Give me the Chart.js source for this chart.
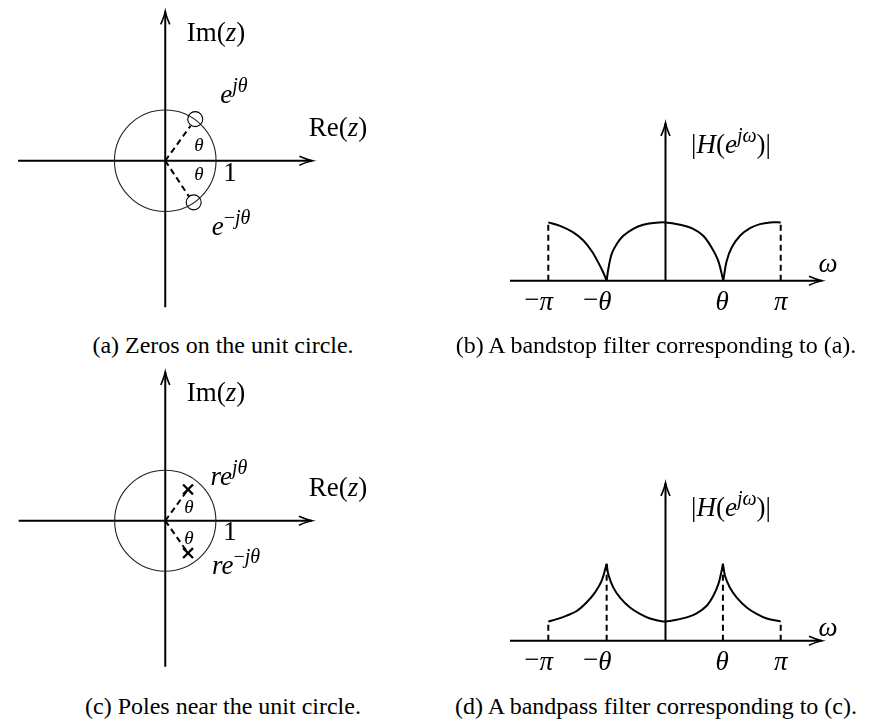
<!DOCTYPE html>
<html>
<head>
<meta charset="utf-8">
<script src="https://cdn.jsdelivr.net/npm/chart.js@4.4.1/dist/chart.umd.min.js"></script>
<style>
  html, body { margin: 0; padding: 0; background: #fff; }
  body { width: 875px; height: 721px; position: relative; overflow: hidden;
         font-family: "Liberation Serif", "DejaVu Serif", serif; color: #000; }
  canvas { position: absolute; }
  .lbl { position: absolute; transform: translate(-50%, -50%); white-space: nowrap; line-height: 1; font-size: 27px; }
  .lbl sup { font-size: 0.74em; vertical-align: 0.55em; line-height: 0; }
  .sm { font-size: 19px; }
  .cap { position: absolute; transform: translate(-50%, -50%); white-space: nowrap; font-size: 24px; line-height: 1; }
  .neg { position: absolute; right: 100%; top: 0; }
</style>
</head>
<body>
<canvas id="chart-a" width="340" height="330" style="left:0;top:0"></canvas>
<canvas id="chart-b" width="360" height="210" style="left:490px;top:110px"></canvas>
<canvas id="chart-c" width="340" height="330" style="left:0;top:360px"></canvas>
<canvas id="chart-d" width="360" height="210" style="left:490px;top:470px"></canvas>

<script>
// ---- data ----
// (a) zeros on the unit circle, (c) poles inside it  (z-plane, unit = 1)
const zeroRe = [0.59, 0.56];
const zeroIm = [0.82, -0.82];
const zeroRayRe = [0.50, 0.47];   // dashed rays stop at the edge of the zero marks
const zeroRayIm = [0.69, -0.71];
const poleRe = [0.45, 0.45];
const poleIm = [0.62, -0.64];

// (b) bandstop |H|, omega in units of pi
const stopLeftW = [-1.0, -0.90, -0.787, -0.701, -0.63, -0.573, -0.531, -0.502];
const stopLeftH = [1.0, 0.94, 0.83, 0.69, 0.51, 0.31, 0.14, 0];
const stopMidW = [-0.502, -0.488, -0.459, -0.416, -0.36, -0.275, -0.19, -0.104, 0, 0.124, 0.236, 0.322, 0.393, 0.45, 0.493];
const stopMidH = [0, 0.20, 0.46, 0.63, 0.77, 0.89, 0.96, 0.99, 1.0, 0.96, 0.89, 0.77, 0.57, 0.34, 0];
const stopRightW = [0.493, 0.522, 0.565, 0.636, 0.721, 0.806, 0.892, 0.983];
const stopRightH = [0, 0.34, 0.57, 0.77, 0.90, 0.97, 1.0, 1.0];

// (d) bandpass |H|
const passLeftW = [-1.0, -0.928, -0.843, -0.757, -0.672, -0.601, -0.544, -0.502];
const passLeftH = [0.33, 0.37, 0.43, 0.51, 0.66, 0.83, 1.03, 1.32];
const passMidW = [-0.502, -0.488, -0.445, -0.388, -0.303, -0.218, -0.132, -0.047, 0, 0.096, 0.181, 0.266, 0.352, 0.408, 0.451, 0.479, 0.49];
const passMidH = [1.32, 1.14, 0.91, 0.74, 0.57, 0.46, 0.38, 0.34, 0.33, 0.36, 0.40, 0.47, 0.60, 0.77, 0.97, 1.20, 1.32];
const passRightW = [0.49, 0.508, 0.550, 0.608, 0.693, 0.778, 0.864, 0.983];
const passRightH = [1.32, 1.11, 0.91, 0.74, 0.57, 0.46, 0.38, 0.33];

// frequency tick labels
const tickW = [-1, -0.5, 0.5, 1];
const tickSym = ['π', 'θ', 'θ', 'π'];

// ---- helpers ----
const pts = (xs, ys) => xs.map((x, i) => ({ x: x, y: ys[i] }));

const axesPlugin = {
  id: 'axes',
  beforeDatasetsDraw(chart, args, o) {
    const { ctx, scales: { x, y } } = chart;
    const x0 = x.getPixelForValue(0), y0 = y.getPixelForValue(0);
    const xa = x.getPixelForValue(o.xFrom), xb = x.getPixelForValue(o.xTo);
    const ya = y.getPixelForValue(o.yFrom), yb = y.getPixelForValue(o.yTo);
    ctx.save();
    ctx.strokeStyle = '#000';
    ctx.lineWidth = 2;
    ctx.beginPath();
    ctx.moveTo(xa, y0); ctx.lineTo(xb, y0);
    ctx.moveTo(x0, ya); ctx.lineTo(x0, yb);
    ctx.stroke();
    // latex style arrow heads
    ctx.lineWidth = 1.6;
    ctx.beginPath();
    ctx.moveTo(xb - 13, y0 - 4.5); ctx.quadraticCurveTo(xb - 5, y0 - 1, xb, y0);
    ctx.quadraticCurveTo(xb - 5, y0 + 1, xb - 13, y0 + 4.5);
    ctx.moveTo(x0 - 4.5, yb + 13); ctx.quadraticCurveTo(x0 - 1, yb + 5, x0, yb);
    ctx.quadraticCurveTo(x0 + 1, yb + 5, x0 + 4.5, yb + 13);
    ctx.stroke();
    if (o.circle) {
      const rx = x.getPixelForValue(o.circle) - x0;
      const ry = y0 - y.getPixelForValue(o.circle);
      ctx.lineWidth = 1.1;
      ctx.strokeStyle = '#222';
      ctx.beginPath();
      ctx.ellipse(x0, y0, rx, ry, 0, 0, Math.PI * 2);
      ctx.stroke();
    }
    ctx.restore();
  }
};

function line(data, dashed) {
  return {
    data: data, showLine: true, borderColor: '#000', borderWidth: 2,
    borderDash: dashed ? [6, 4] : [], pointRadius: 0,
    tension: dashed ? 0 : 0.35
  };
}

function makeChart(id, datasets, range, axes) {
  return new Chart(document.getElementById(id), {
    type: 'scatter',
    data: { datasets: datasets },
    options: {
      responsive: false, animation: false, events: [],
      layout: { padding: 0 },
      plugins: { legend: { display: false }, tooltip: { enabled: false }, axes: axes },
      scales: {
        x: { type: 'linear', display: false, min: range[0], max: range[1] },
        y: { type: 'linear', display: false, min: range[2], max: range[3] }
      }
    },
    plugins: [axesPlugin]
  });
}

const zRange = [-3.084, 3.271, -3.168, 3.0];
const zAxes = { xFrom: -2.897, xTo: 2.897, yFrom: -2.888, yTo: 2.944, circle: 1 };
const wRange = [-1.4974, 1.5742, -0.674, 2.928];
const wAxes = { xFrom: -1.327, xTo: 1.335, yFrom: 0, yTo: 2.705 };

// (a) zeros
makeChart('chart-a', [
  line([{ x: 0, y: 0 }, { x: zeroRayRe[0], y: zeroRayIm[0] }], true),
  line([{ x: 0, y: 0 }, { x: zeroRayRe[1], y: zeroRayIm[1] }], true),
  { data: pts(zeroRe, zeroIm), showLine: false, pointStyle: 'circle', pointRadius: 7.5,
    pointBorderWidth: 1.1, pointBorderColor: '#000', pointBackgroundColor: 'rgba(0,0,0,0)' }
], zRange, zAxes);

// (c) poles
makeChart('chart-c', [
  line([{ x: 0, y: 0 }, { x: poleRe[0], y: poleIm[0] }], true),
  line([{ x: 0, y: 0 }, { x: poleRe[1], y: poleIm[1] }], true),
  { data: pts(poleRe, poleIm), showLine: false, pointStyle: 'crossRot', pointRadius: 7,
    pointBorderWidth: 2.2, pointBorderColor: '#000' }
], zRange, zAxes);

// (b) bandstop
const chartB = makeChart('chart-b', [
  line(pts(stopLeftW, stopLeftH)),
  line(pts(stopMidW, stopMidH)),
  line(pts(stopRightW, stopRightH)),
  line([{ x: stopLeftW[0], y: 0 }, { x: stopLeftW[0], y: stopLeftH[0] }], true),
  line([{ x: stopRightW[stopRightW.length - 1], y: 0 }, { x: stopRightW[stopRightW.length - 1], y: stopRightH[stopRightH.length - 1] }], true)
], wRange, wAxes);

// (d) bandpass
const chartD = makeChart('chart-d', [
  line(pts(passLeftW, passLeftH)),
  line(pts(passMidW, passMidH)),
  line(pts(passRightW, passRightH)),
  line([{ x: passLeftW[0], y: 0 }, { x: passLeftW[0], y: passLeftH[0] }], true),
  line([{ x: passLeftW[passLeftW.length - 1], y: 0 }, { x: passLeftW[passLeftW.length - 1], y: passLeftH[passLeftH.length - 1] }], true),
  line([{ x: passRightW[0], y: 0 }, { x: passRightW[0], y: passRightH[0] }], true),
  line([{ x: passRightW[passRightW.length - 1], y: 0 }, { x: passRightW[passRightW.length - 1], y: passRightH[passRightH.length - 1] }], true)
], wRange, wAxes);

// ---- text ----
function addLabel(html, x, y, cls) {
  const d = document.createElement('div');
  d.className = cls || 'lbl';
  d.innerHTML = html;
  d.style.left = x + 'px';
  d.style.top = y + 'px';
  document.body.appendChild(d);
}

const imZ = 'Im(<i>z</i>)', reZ = 'Re(<i>z</i>)';
const absH = '|<i>H</i>(<i>e</i><sup><i>jω</i></sup>)|';
[
  [imZ, 216, 32], [reZ, 338, 127], ['<i>e</i><sup><i>jθ</i></sup>', 234, 94],
  ['<i>e</i><sup>−<i>jθ</i></sup>', 231, 226], ['1', 230, 172],
  [imZ, 216, 392], [reZ, 338, 487], ['<i>re</i><sup><i>jθ</i></sup>', 229, 476],
  ['<i>re</i><sup>−<i>jθ</i></sup>', 236, 565], ['1', 230, 531],
  [absH, 731, 144], ['<i>ω</i>', 828, 263],
  [absH, 731, 507], ['<i>ω</i>', 828, 627]
].forEach(l => addLabel(l[0], l[1], l[2]));

[[199, 144], [199, 173], [189, 506], [189, 537]].forEach(p => addLabel('<i>θ</i>', p[0], p[1], 'lbl sm'));

[[chartB, 490, 110], [chartD, 490, 470]].forEach(([ch, left, top]) => {
  const y0 = top + ch.scales.y.getPixelForValue(0) + 20;
  tickW.forEach((w, i) => {
    const neg = w < 0 ? '<span class="neg">−</span>' : '';
    addLabel('<span style="position:relative"><i>' + tickSym[i] + '</i>' + neg + '</span>',
      left + ch.scales.x.getPixelForValue(w) - 2, y0);
  });
});

addLabel('(a) Zeros on the unit circle.', 223, 345, 'cap');
addLabel('(b) A bandstop filter corresponding to (a).', 656, 345, 'cap');
addLabel('(c) Poles near the unit circle.', 223, 706, 'cap');
addLabel('(d) A bandpass filter corresponding to (c).', 656, 706, 'cap');
</script>
</body>
</html>
